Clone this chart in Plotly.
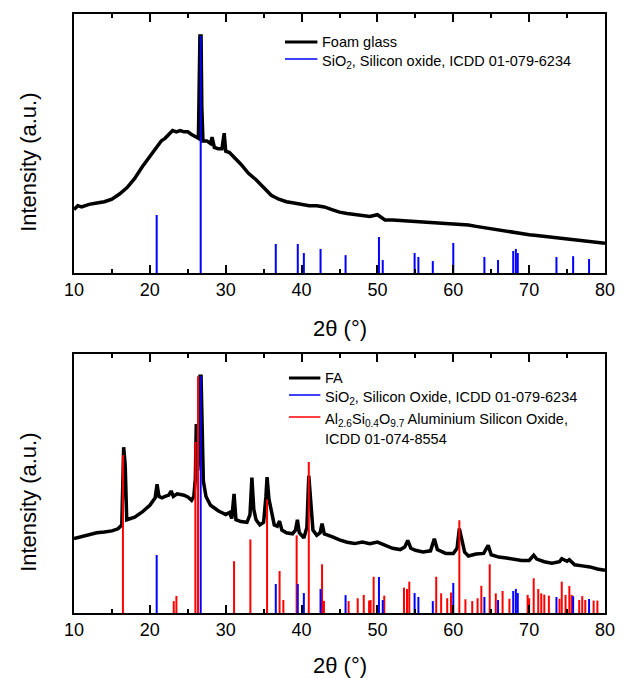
import plotly.graph_objects as go

# ---------------- data ----------------
# Foam glass pattern (anchor points), intensity in % of plot height
fg_x = [10.0, 10.5, 11, 12, 13, 14, 15, 16, 17, 18, 19, 20, 21, 21.5, 22, 22.5, 23, 23.5, 24, 24.5,
        25, 25.5, 26, 26.4, 26.6, 26.75, 26.85, 27.0, 27.5, 28, 28.2, 28.5, 29, 29.5, 29.8, 30.0,
        30.5, 31, 32, 33, 34, 35, 36, 37, 38, 39, 40, 41, 42, 43, 44, 45, 46, 47, 48, 49, 50, 51,
        52, 53, 54, 55, 56, 57, 58, 59, 60, 61, 62, 63, 64, 65, 66, 67, 68, 69, 70, 71, 72, 73,
        74, 75, 76, 77, 78, 79, 80]
fg_y = [24.5, 26, 25.5, 26.5, 27, 27.5, 28.5, 30.5, 33, 36.5, 41, 45, 49, 51, 52, 53.5, 55, 54.5, 55, 54.5,
        54.5, 53.5, 52.5, 52, 91.5, 91.5, 64, 51, 51, 50, 52.5, 48.5, 48, 48, 54, 47,
        46.5, 45, 42, 38.5, 36, 33, 30, 28.5, 27.5, 27, 26.5, 26, 26, 25.5, 24.5, 23.5, 23, 22.5, 22, 21.8, 22.5, 20.5,
        20.5, 20.3, 20, 19.8, 19.5, 19.3, 19.3, 19.2, 19, 18.8, 18.5, 18, 17.5, 17, 16.5, 16, 15.5, 15, 14.8, 14.5, 14.2, 13.8,
        13.5, 13.3, 13, 12.5, 12.2, 11.8, 11.5]

# Fly ash (FA) pattern
fa_x = [10, 11, 12, 13, 14, 15, 15.8, 16.3, 16.55, 16.75, 16.95, 17.5, 18, 19, 20, 20.7, 20.95, 21.2, 21.6,
        22, 22.5, 22.8, 23.1, 23.6, 24, 24.5, 25, 25.5, 25.8, 26.0, 26.12, 26.3, 26.45, 26.62, 26.75, 26.85,
        27.05, 27.4, 28, 29, 30, 30.5, 30.8, 31.1, 31.35, 32, 32.8, 33.2, 33.45, 33.7, 34, 34.5, 35.0, 35.3,
        35.45, 35.7, 36.0, 36.4, 36.8, 37.1, 37.4, 38, 38.8, 39.2, 39.45, 39.7, 40.3, 40.7, 40.95, 41.2, 41.5,
        42, 42.45, 42.7, 43.0, 44, 45, 46, 47, 48, 49, 50, 51, 52, 53, 53.6, 54.0, 54.4, 55, 56, 57, 57.5,
        57.9, 59, 60, 60.5, 60.8, 61.1, 61.5, 62, 63, 64, 64.6, 65, 66, 67, 68, 69, 70, 70.6, 71, 72, 73,
        74, 74.3, 75, 75.3, 76, 77, 78, 79, 80]
fa_y = [28.7, 29.5, 30.5, 31, 31.3, 31.7, 32.5, 34, 64, 57, 36, 36.5, 37, 39, 41.6, 44.5, 49.7, 45, 44.5,
        45, 45.5, 47.1, 45, 46, 45.8, 45.5, 44.8, 43.5, 45, 52, 73, 55, 60, 91.4, 91.4, 71.8,
        51, 45, 41.6, 39.5, 38, 38.8, 36.5, 46, 36, 35.3, 35, 38, 52.3, 40, 36, 34, 35, 45,
        52.5, 44, 40, 34, 33.5, 35.5, 32, 31, 30.6, 32, 36, 31, 29, 33, 53, 42, 32,
        30, 31, 34.5, 30.5, 29.5, 28.2, 27.3, 26.8, 27.4, 26.8, 27.4, 26.1, 25, 24.5, 25.5, 28, 25, 24.2, 23.6, 24, 28.7,
        24.5, 23, 23, 25, 32.6, 28, 23.5, 22, 22.8, 23, 26.1, 22.5, 21.6, 21.2, 20.6, 20.3, 20.3, 22.3, 20.8, 19.8, 19.2,
        19.8, 21, 20, 20.6, 18.6, 18.2, 17.8, 17, 16.5]

# SiO2 reference lines, ICDD 01-079-6234
sio2_pos = [20.9, 26.7, 36.6, 39.5, 40.3, 42.5, 45.8, 50.2, 50.7, 54.9, 55.4, 57.3, 60.0, 64.1,
            65.9, 67.9, 68.25, 68.5, 73.6, 75.8, 77.9]
sio2_top = [22.4, 91.5, 11.2, 11.2, 7.7, 9.3, 6.9, 13.9, 5.0, 7.7, 6.2, 4.6, 11.6, 6.2,
            5.0, 8.5, 9.3, 7.7, 6.2, 6.5, 5.4]

# Al2.6Si0.4O9.7 reference lines, ICDD 01-074-8554
al_pos = [16.45, 23.15, 23.5, 26.0, 26.35, 31.1, 33.25, 35.45, 37.1, 37.6, 39.35, 40.95, 42.7, 42.95,
          46.2, 47.4, 48.2, 48.9, 49.1, 49.5, 50.9, 53.5, 53.9, 54.2, 57.75, 58.4, 59.2, 59.7,
          60.8, 61.6, 62.5, 63.2, 63.7, 64.8, 65.6, 66.5, 67.4, 69.8, 70.0, 70.6, 71.2, 71.6,
          72.0, 72.6, 74.0, 74.3, 74.8, 75.3, 75.6, 76.6, 77.0, 77.4, 78.5, 79.0]
al_top = [60.9, 4.6, 6.6, 66.0, 91.4, 20.0, 28.4, 43.8, 16.2, 5.0, 30.0, 58.3, 18.8, 4.7,
          4.6, 5.7, 7.0, 4.8, 5.0, 14.0, 6.7, 9.8, 9.3, 12.1, 14.0, 7.6, 5.7, 7.9,
          35.8, 5.3, 4.6, 5.7, 10.5, 18.8, 7.6, 8.5, 5.5, 7.0, 5.7, 13.4, 9.3, 7.6,
          7.1, 6.7, 5.5, 12.1, 7.0, 10.4, 7.0, 5.0, 6.5, 5.0, 4.8, 4.8]

x_ticks = [10, 20, 30, 40, 50, 60, 70, 80]

name_fg = "Foam glass"
name_sio2_top = "SiO<sub>2</sub>, Silicon oxide, ICDD 01-079-6234"
name_fa = "FA"
name_sio2_bot = "SiO<sub>2</sub>, Silicon Oxide, ICDD 01-079-6234"
name_al_1 = "Al<sub>2.6</sub>Si<sub>0.4</sub>O<sub>9.7</sub> Aluminium Silicon Oxide,"
name_al_2 = "ICDD 01-074-8554"

FONT = "Arial, Liberation Sans, sans-serif"
BLACK, BLUE, RED = "black", "#0000ff", "#ff0000"

# plot-area pixel frame (625x679 canvas)
L, R, T, B = 74, 10, 14, 66
PW, PH = 625 - L - R, 679 - T - B


def px(xp):
    return (xp - L) / PW


def py(yp):
    return (679 - B - yp) / PH


def sticks(pos, top):
    xs, ys = [], []
    for p, v in zip(pos, top):
        xs += [p, p, None]
        ys += [0, v, None]
    return xs, ys


fig = go.Figure()

# ---- top panel ----
fig.add_trace(go.Scatter(x=fg_x, y=fg_y, mode="lines", name=name_fg,
                         line=dict(color=BLACK, width=3.5), xaxis="x", yaxis="y"))
sx, sy = sticks(sio2_pos, sio2_top)
fig.add_trace(go.Scatter(x=sx, y=sy, mode="lines", name=name_sio2_top,
                         line=dict(color=BLUE, width=2), xaxis="x", yaxis="y"))

# ---- bottom panel ----
fig.add_trace(go.Scatter(x=fa_x, y=fa_y, mode="lines", name=name_fa,
                         line=dict(color=BLACK, width=3.5), xaxis="x2", yaxis="y2"))
ax, ay = sticks(al_pos, al_top)
fig.add_trace(go.Scatter(x=ax, y=ay, mode="lines", name=name_al_1 + " " + name_al_2,
                         line=dict(color=RED, width=2), xaxis="x2", yaxis="y2"))
bx, by = sticks(sio2_pos, sio2_top)
fig.add_trace(go.Scatter(x=bx, y=by, mode="lines", name=name_sio2_bot,
                         line=dict(color=BLUE, width=2), xaxis="x2", yaxis="y2"))

xaxis_common = dict(range=[10, 80], tickvals=x_ticks, ticks="inside", ticklen=8, tickwidth=1.5,
                    tickcolor="black", showline=True, linecolor="black", linewidth=1.5,
                    mirror="allticks", showgrid=False, zeroline=False,
                    tickfont=dict(family=FONT, size=18, color="black"),
                    minor=dict(dtick=5, tick0=0, ticks="inside", ticklen=4, tickwidth=1.5, tickcolor="black",
                               showgrid=False))
yaxis_common = dict(range=[0, 100], showticklabels=False, ticks="", showline=True, linecolor="black",
                    linewidth=1.5, mirror=True, showgrid=False, zeroline=False)

fig.update_layout(
    width=625, height=679,
    margin=dict(l=L, r=R, t=T, b=B),
    paper_bgcolor="white", plot_bgcolor="white",
    font=dict(family=FONT, color="black"),
    xaxis=dict(domain=[0, 1], anchor="y", **xaxis_common),
    yaxis=dict(domain=[py(273), 1], anchor="x", **yaxis_common),
    xaxis2=dict(domain=[0, 1], anchor="y2", **xaxis_common),
    yaxis2=dict(domain=[0, py(354)], anchor="x2", **yaxis_common),
    showlegend=False,
)

# ---- axis titles ----
for yp in [328, 665]:
    fig.add_annotation(text="2θ (°)", xref="paper", yref="paper", x=0.5, y=py(yp),
                       showarrow=False, xanchor="center", yanchor="middle",
                       font=dict(family=FONT, size=22, color="black"))
for yp in [162, 502]:
    fig.add_annotation(text="Intensity (a.u.)", xref="paper", yref="paper", x=px(27), y=py(yp),
                       showarrow=False, textangle=-90, xanchor="center", yanchor="middle",
                       font=dict(family=FONT, size=22, color="black"))

# ---- legends (sample line + label) ----
legend_rows = [
    # (sample x0, sample x1, row y, colour, width, label)
    (289, 322, 42, BLACK, 3, name_fg),
    (289, 322, 59, BLUE, 1.5, name_sio2_top),
    (293, 325, 378, BLACK, 3, name_fa),
    (293, 325, 395, BLUE, 1.5, name_sio2_bot),
    (293, 325, 417, RED, 1.5, name_al_1),
    (None, 325, 439, None, 0, name_al_2),
]
for x0, x1, yr, col, w, lab in legend_rows:
    if x0 is not None:
        fig.add_shape(type="line", xref="paper", yref="paper", x0=px(x0), x1=px(x1),
                      y0=py(yr), y1=py(yr), line=dict(color=col, width=w))
    sub = "<sub>" in lab
    fig.add_annotation(text=lab, xref="paper", yref="paper", x=px(x1 + 3), y=py(yr + (3 if sub else 0)),
                       showarrow=False, xanchor="left", yanchor="middle", align="left",
                       font=dict(family=FONT, size=14.5, color="black"))

fig.write_html("out.html")
